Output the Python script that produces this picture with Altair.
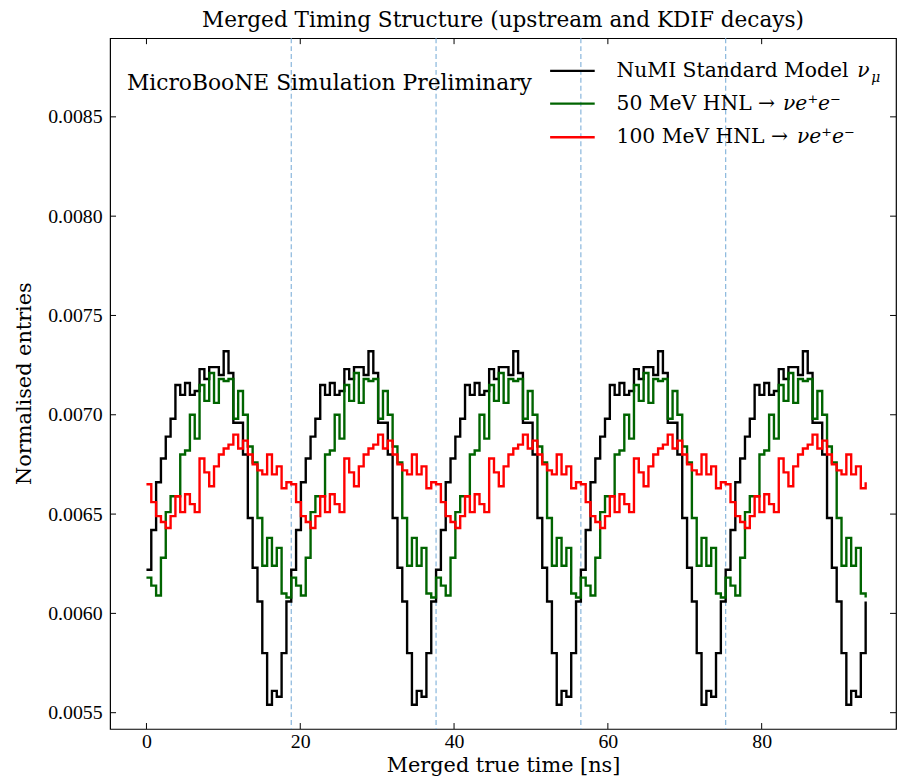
import altair as alt
import pandas as pd

# ---------------- data ----------------
PERIOD = 18.83          # ns, bunch spacing (dashed lines)
BINS_PER_PERIOD = 30

series_names = ["NuMI Standard Model", "50 MeV HNL", "100 MeV HNL"]
series_colors = ["#000000", "#006400", "#ff0000"]

black_vals = [
    0.00622, 0.00642, 0.00666, 0.00678, 0.00689, 0.00698, 0.00715, 0.00710, 0.00716, 0.00710,
    0.00712, 0.00723, 0.00718, 0.00724, 0.00724, 0.00720, 0.00732, 0.00721, 0.00696, 0.00696,
    0.00680, 0.00648, 0.00623, 0.00606, 0.00580, 0.00554, 0.00561, 0.00558, 0.00580, 0.00606,
    0.00622, 0.00642, 0.00666, 0.00678, 0.00689, 0.00698, 0.00715, 0.00710, 0.00716, 0.00710,
    0.00712, 0.00723, 0.00718, 0.00724, 0.00724, 0.00720, 0.00732, 0.00721, 0.00696, 0.00696,
    0.00680, 0.00648, 0.00623, 0.00606, 0.00580, 0.00554, 0.00561, 0.00558, 0.00580, 0.00606,
    0.00622, 0.00642, 0.00666, 0.00678, 0.00689, 0.00698, 0.00715, 0.00710, 0.00716, 0.00710,
    0.00712, 0.00723, 0.00718, 0.00724, 0.00724, 0.00720, 0.00732, 0.00721, 0.00696, 0.00696,
    0.00680, 0.00648, 0.00623, 0.00606, 0.00580, 0.00554, 0.00561, 0.00558, 0.00580, 0.00606,
    0.00622, 0.00642, 0.00666, 0.00678, 0.00689, 0.00698, 0.00715, 0.00710, 0.00716, 0.00710,
    0.00712, 0.00723, 0.00718, 0.00724, 0.00724, 0.00720, 0.00732, 0.00721, 0.00696, 0.00696,
    0.00680, 0.00648, 0.00623, 0.00606, 0.00580, 0.00554, 0.00561, 0.00558, 0.00580, 0.00606,
    0.00622, 0.00642, 0.00666, 0.00678, 0.00689, 0.00698, 0.00715, 0.00710, 0.00716, 0.00710,
    0.00712, 0.00723, 0.00718, 0.00724, 0.00724, 0.00720, 0.00732, 0.00721, 0.00696, 0.00696,
    0.00680, 0.00648, 0.00623, 0.00606, 0.00580, 0.00554, 0.00561, 0.00558, 0.00580, 0.00606,
]

green_vals = [
    0.00618, 0.00614, 0.00609, 0.00628, 0.00651, 0.00659, 0.00659, 0.00680, 0.00682, 0.00700,
    0.00688, 0.00715, 0.00707, 0.00721, 0.00706, 0.00718, 0.00717, 0.00718, 0.00698, 0.00712,
    0.00700, 0.00684, 0.00676, 0.00648, 0.00624, 0.00638, 0.00624, 0.00633, 0.00610, 0.00608,
    0.00618, 0.00614, 0.00609, 0.00628, 0.00651, 0.00659, 0.00659, 0.00680, 0.00682, 0.00700,
    0.00688, 0.00715, 0.00707, 0.00721, 0.00706, 0.00718, 0.00717, 0.00718, 0.00698, 0.00712,
    0.00700, 0.00684, 0.00676, 0.00648, 0.00624, 0.00638, 0.00624, 0.00633, 0.00610, 0.00608,
    0.00618, 0.00614, 0.00609, 0.00628, 0.00651, 0.00659, 0.00659, 0.00680, 0.00682, 0.00700,
    0.00688, 0.00715, 0.00707, 0.00721, 0.00706, 0.00718, 0.00717, 0.00718, 0.00698, 0.00712,
    0.00700, 0.00684, 0.00676, 0.00648, 0.00624, 0.00638, 0.00624, 0.00633, 0.00610, 0.00608,
    0.00618, 0.00614, 0.00609, 0.00628, 0.00651, 0.00659, 0.00659, 0.00680, 0.00682, 0.00700,
    0.00688, 0.00715, 0.00707, 0.00721, 0.00706, 0.00718, 0.00717, 0.00718, 0.00698, 0.00712,
    0.00700, 0.00684, 0.00676, 0.00648, 0.00624, 0.00638, 0.00624, 0.00633, 0.00610, 0.00608,
    0.00618, 0.00614, 0.00609, 0.00628, 0.00651, 0.00659, 0.00659, 0.00680, 0.00682, 0.00700,
    0.00688, 0.00715, 0.00707, 0.00721, 0.00706, 0.00718, 0.00717, 0.00718, 0.00698, 0.00712,
    0.00700, 0.00684, 0.00676, 0.00648, 0.00624, 0.00638, 0.00624, 0.00633, 0.00610, 0.00608,
]

red_vals = [
    0.00665, 0.00656, 0.00649, 0.00646, 0.00643, 0.00649, 0.00659, 0.00651, 0.00660, 0.00655,
    0.00651, 0.00678, 0.00671, 0.00664, 0.00674, 0.00680, 0.00683, 0.00685, 0.00690, 0.00683,
    0.00687, 0.00680, 0.00675, 0.00672, 0.00670, 0.00680, 0.00670, 0.00674, 0.00663, 0.00666,
    0.00665, 0.00656, 0.00649, 0.00646, 0.00643, 0.00649, 0.00659, 0.00651, 0.00660, 0.00655,
    0.00651, 0.00678, 0.00671, 0.00664, 0.00674, 0.00680, 0.00683, 0.00685, 0.00690, 0.00683,
    0.00687, 0.00680, 0.00675, 0.00672, 0.00670, 0.00680, 0.00670, 0.00674, 0.00663, 0.00666,
    0.00665, 0.00656, 0.00649, 0.00646, 0.00643, 0.00649, 0.00659, 0.00651, 0.00660, 0.00655,
    0.00651, 0.00678, 0.00671, 0.00664, 0.00674, 0.00680, 0.00683, 0.00685, 0.00690, 0.00683,
    0.00687, 0.00680, 0.00675, 0.00672, 0.00670, 0.00680, 0.00670, 0.00674, 0.00663, 0.00666,
    0.00665, 0.00656, 0.00649, 0.00646, 0.00643, 0.00649, 0.00659, 0.00651, 0.00660, 0.00655,
    0.00651, 0.00678, 0.00671, 0.00664, 0.00674, 0.00680, 0.00683, 0.00685, 0.00690, 0.00683,
    0.00687, 0.00680, 0.00675, 0.00672, 0.00670, 0.00680, 0.00670, 0.00674, 0.00663, 0.00666,
    0.00665, 0.00656, 0.00649, 0.00646, 0.00643, 0.00649, 0.00659, 0.00651, 0.00660, 0.00655,
    0.00651, 0.00678, 0.00671, 0.00664, 0.00674, 0.00680, 0.00683, 0.00685, 0.00690, 0.00683,
    0.00687, 0.00680, 0.00675, 0.00672, 0.00670, 0.00680, 0.00670, 0.00674, 0.00663, 0.00666,
]

bunch_lines = [18.83, 37.66, 56.49, 75.32]
x_ticks = [0, 20, 40, 60, 80]
y_ticks = [0.0055, 0.0060, 0.0065, 0.0070, 0.0075, 0.0080, 0.0085]

# bin left edges (regular histogram binning)
bin_width = PERIOD / BINS_PER_PERIOD
edges = [i * bin_width for i in range(len(black_vals))]

# ---------------- layout ----------------
NUMFONT = "Liberation Serif"
FONT = "DejaVu Serif"
W, H = 793, 697
XDOM = [-4.73, 97.47]
YDOM = [0.005418, 0.008896]

xs = alt.Scale(domain=XDOM, nice=False, zero=False)
ys = alt.Scale(domain=YDOM, nice=False, zero=False)

x_axis = alt.Axis(values=x_ticks, title="Merged true time [ns]", format="d",
                  labelPadding=3, titleY=43, titleBaseline="alphabetic")
y_axis = alt.Axis(values=y_ticks, title="Normalised entries", format=".4f",
                  labelPadding=8, titleX=-86, titleY=348, titleBaseline="middle",
                  titleAlign="center")

one = pd.DataFrame({"a": [0]})
layers = []

# bunch separators
vdf = pd.DataFrame({"t": bunch_lines})
layers.append(
    alt.Chart(vdf).mark_rule(color="#88b6dc", strokeWidth=1.2, strokeDash=[5, 3])
    .encode(x=alt.X("t:Q", scale=xs, axis=x_axis))
)

# step histograms, drawn in order black, green, red
for name, vals, col in zip(series_names, [black_vals, green_vals, red_vals], series_colors):
    d = pd.DataFrame({"t": edges, "v": vals})
    layers.append(
        alt.Chart(d).mark_line(interpolate="step-after", color=col, strokeWidth=2.4,
                               strokeJoin="miter", strokeCap="butt")
        .encode(x=alt.X("t:Q", scale=xs, axis=x_axis),
                y=alt.Y("v:Q", scale=ys, axis=y_axis))
    )

# inward ticks on all four sides
tx = pd.DataFrame({"t": x_ticks})
ty = pd.DataFrame({"v": y_ticks})
TL = 6
layers.append(alt.Chart(tx).mark_rule(color="black", strokeWidth=1)
              .encode(x=alt.X("t:Q", scale=xs), y=alt.value(H), y2=alt.value(H - TL)))
layers.append(alt.Chart(tx).mark_rule(color="black", strokeWidth=1)
              .encode(x=alt.X("t:Q", scale=xs), y=alt.value(0), y2=alt.value(TL)))
layers.append(alt.Chart(ty).mark_rule(color="black", strokeWidth=1)
              .encode(y=alt.Y("v:Q", scale=ys), x=alt.value(0), x2=alt.value(TL)))
layers.append(alt.Chart(ty).mark_rule(color="black", strokeWidth=1)
              .encode(y=alt.Y("v:Q", scale=ys), x=alt.value(W), x2=alt.value(W - TL)))

# annotation
layers.append(
    alt.Chart(one).mark_text(
        text="MicroBooNE Simulation Preliminary", font=FONT, fontSize=22,
        align="left", baseline="middle", color="black")
    .encode(x=alt.value(17), y=alt.value(45))
)

# manual legend: sample line, upright text, italic math part
legend_plain = ["NuMI Standard Model", "50 MeV HNL \u2192", "100 MeV HNL \u2192"]
legend_math = ["\u03bd", "\u03bde\u207ae\u207b", "\u03bde\u207ae\u207b"]
legend_math_x = [754, 679, 693]
legend_y = [33, 66, 100]
LFS = 20.5
for lab, mth, mx, col, ly in zip(legend_plain, legend_math, legend_math_x, series_colors, legend_y):
    layers.append(
        alt.Chart(one).mark_rule(color=col, strokeWidth=2.4)
        .encode(x=alt.value(444), x2=alt.value(489), y=alt.value(ly))
    )
    layers.append(
        alt.Chart(one).mark_text(
            text=lab, font=FONT, fontSize=LFS, align="left", baseline="middle", color="black")
        .encode(x=alt.value(511), y=alt.value(ly))
    )
    layers.append(
        alt.Chart(one).mark_text(
            text=mth, font=FONT, fontSize=LFS, fontStyle="italic", align="left",
            baseline="middle", color="black")
        .encode(x=alt.value(mx), y=alt.value(ly))
    )
# subscript mu
layers.append(
    alt.Chart(one).mark_text(
        text="\u03bc", font=FONT, fontSize=14, fontStyle="italic", align="left",
        baseline="middle", color="black")
    .encode(x=alt.value(768), y=alt.value(40))
)

chart = alt.layer(*layers).properties(
    width=W, height=H,
    title=alt.TitleParams("Merged Timing Structure (upstream and KDIF decays)",
                          font=FONT, fontSize=21.8, fontWeight="normal", color="black",
                          offset=6, anchor="middle"),
    autosize=alt.AutoSizeParams(type="none"),
    padding={"left": 103, "top": 27, "right": 1, "bottom": 47},
).configure_view(stroke="black", strokeWidth=1.2).configure_axis(
    labelFont=NUMFONT, labelFontSize=20, labelColor="black",
    titleFont=FONT, titleFontSize=21, titleFontWeight="normal", titleColor="black",
    domain=False, ticks=False, grid=False,
)

chart.save("out.html", embed_options={"renderer": "svg", "actions": False})
